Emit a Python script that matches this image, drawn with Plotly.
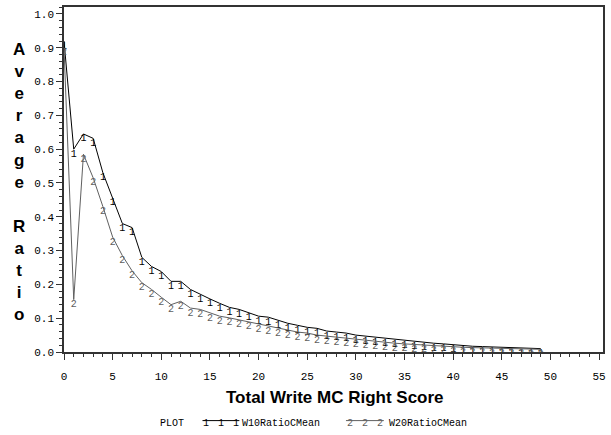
import plotly.graph_objects as go

score = list(range(0, 50))
w10 = [0.92, 0.60, 0.645, 0.632, 0.53, 0.456, 0.38, 0.368, 0.28, 0.253,
       0.238, 0.209, 0.209, 0.185, 0.17, 0.157, 0.144, 0.132, 0.126, 0.117,
       0.106, 0.103, 0.094, 0.085, 0.079, 0.073, 0.07, 0.062, 0.059, 0.056,
       0.05, 0.047, 0.044, 0.041, 0.036, 0.033, 0.030, 0.028, 0.026, 0.024,
       0.021, 0.019, 0.017, 0.016, 0.015, 0.013, 0.012, 0.011, 0.010, 0.010]
w20 = [0.90, 0.155, 0.585, 0.515, 0.43, 0.34, 0.285, 0.24, 0.205, 0.185,
       0.162, 0.14, 0.15, 0.13, 0.126, 0.115, 0.106, 0.101, 0.095, 0.089,
       0.082, 0.076, 0.07, 0.065, 0.059, 0.056, 0.05, 0.047, 0.044, 0.041,
       0.038, 0.035, 0.03, 0.027, 0.026, 0.024, 0.022, 0.021, 0.019, 0.018,
       0.016, 0.014, 0.013, 0.012, 0.011, 0.010, 0.009, 0.009, 0.008, 0.008]
x_ticks = list(range(0, 56, 5))
y_ticks = [round(i * 0.1, 1) for i in range(11)]
series_names = ["W10RatioCMean", "W20RatioCMean"]

W, H = 611, 435
L, R, T, B = 64, 605, 5, 352
MONO = "Liberation Mono"
GRAY = "#606060"

def px(x):
    return (x - L) / (R - L)

def py(y):
    return (B - y) / (B - T)

fig = go.Figure()
fig.add_trace(go.Scatter(
    x=score, y=w10, mode="lines+text", text=["1"] * len(score),
    textposition="bottom center", textfont=dict(family=MONO, size=10, color="black"),
    line=dict(color="black", width=1), name=series_names[0], showlegend=False))
fig.add_trace(go.Scatter(
    x=score, y=w20, mode="lines+text", text=["2"] * len(score),
    textposition="bottom center", textfont=dict(family=MONO, size=10, color=GRAY),
    line=dict(color=GRAY, width=1), name=series_names[1], showlegend=False))

fig.update_xaxes(
    range=[0, 55.4], tickvals=x_ticks, ticktext=[str(v) for v in x_ticks],
    ticks="outside", ticklen=6, tickcolor="#333", tickwidth=1,
    minor=dict(dtick=1, ticks="outside", ticklen=3, tickcolor="#333"),
    showline=True, mirror=True, linecolor="#333", linewidth=1.5,
    showgrid=False, zeroline=False, ticklabelstandoff=7,
    tickfont=dict(family=MONO, size=11, color="black"))
fig.update_yaxes(
    range=[0, 1.0206], tickvals=y_ticks, ticktext=[f"{v:.1f}" for v in y_ticks],
    ticks="outside", ticklen=6, tickcolor="#333", tickwidth=1,
    minor=dict(dtick=0.02, ticks="outside", ticklen=3, tickcolor="#333"),
    showline=True, mirror=True, linecolor="#333", linewidth=1.5,
    showgrid=False, zeroline=False,
    tickfont=dict(family=MONO, size=11, color="black"))

ann = []
ann.append(dict(x=px(336), y=py(398), xref="paper", yref="paper",
                text="<b>Total Write MC Right Score</b>", showarrow=False,
                font=dict(family="Liberation Sans", size=17, color="black"),
                xanchor="center", yanchor="middle"))
ann.append(dict(x=px(19), y=py(181), xref="paper", yref="paper",
                text="<b>" + "<br>".join(list("Average")) + "<br> <br>" + "<br>".join(list("Ratio")) + "</b>",
                showarrow=False, font=dict(family="Liberation Sans", size=17, color="black"),
                xanchor="center", yanchor="middle", align="center"))
# legend
ann.append(dict(x=px(158), y=py(424), xref="paper", yref="paper", text="PLOT",
                showarrow=False, font=dict(family=MONO, size=10, color="black"),
                xanchor="left", yanchor="middle"))
ann.append(dict(x=px(241), y=py(424), xref="paper", yref="paper", text=series_names[0],
                showarrow=False, font=dict(family=MONO, size=10, color="black"),
                xanchor="left", yanchor="middle"))
ann.append(dict(x=px(388), y=py(424), xref="paper", yref="paper", text=series_names[1],
                showarrow=False, font=dict(family=MONO, size=10, color="black"),
                xanchor="left", yanchor="middle"))
shapes = []
for (x0, x1, ch, col) in [(203, 240, "1", "black"), (347, 385, "2", GRAY)]:
    shapes.append(dict(type="line", xref="paper", yref="paper", x0=px(x0), x1=px(x1),
                       y0=py(421), y1=py(421), line=dict(color=col, width=1)))
    for k in range(3):
        ann.append(dict(x=px(x0 + 4 + k * 15), y=py(424), xref="paper", yref="paper", text=ch,
                        showarrow=False, font=dict(family=MONO, size=10, color=col),
                        xanchor="center", yanchor="middle"))

fig.update_layout(
    width=W, height=H, margin=dict(l=L, r=W - R, t=T, b=H - B),
    paper_bgcolor="white", plot_bgcolor="white",
    annotations=ann, shapes=shapes, showlegend=False)

fig.write_html("out.html")
